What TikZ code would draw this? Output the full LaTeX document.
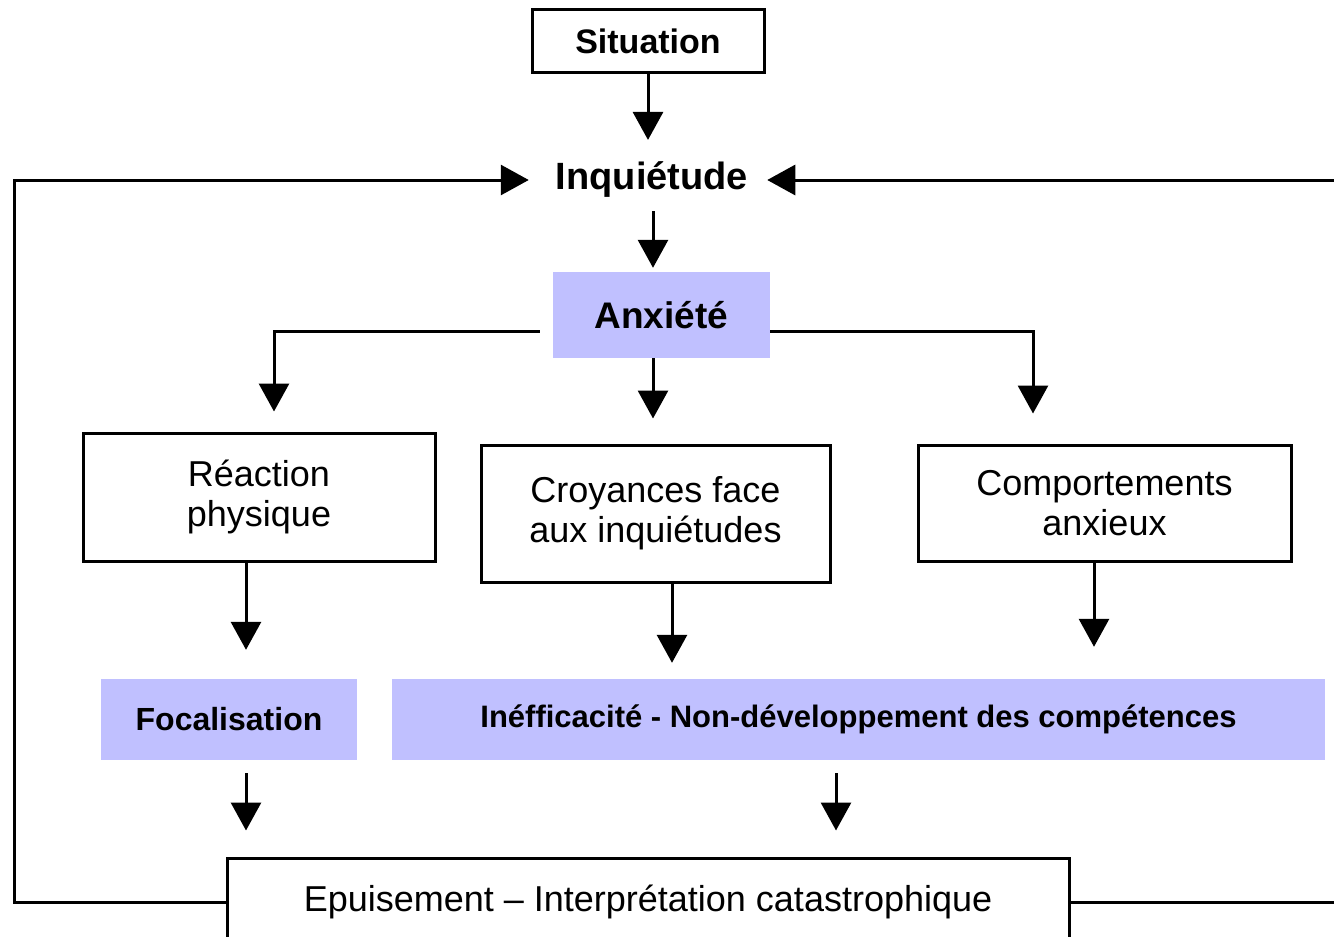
\documentclass[tikz,border=0pt]{standalone}
\usepackage{fontspec}
\setmainfont{Liberation Sans}
\usetikzlibrary{arrows.meta,positioning}
\definecolor{lavande}{HTML}{C0C0FF}

\tikzset{
  boite/.style={draw, line width=3pt, inner sep=0pt, align=center, font=\fontsize{36}{40}\selectfont},
  pave/.style={fill=lavande, inner sep=0pt, align=center, font=\fontsize{31}{36}\selectfont\bfseries},
  fleche/.style={line width=3pt, -{Triangle[width=30pt,length=28pt]}},
}

\begin{document}
\begin{tikzpicture}[x=1pt,y=-1pt]
            \clip (0,0) rectangle (1334,937);
            \fill[white] (0,0) rectangle (1334,937);
            \node[boite, minimum width=232pt, minimum height=63pt, font=\fontsize{34}{38}\selectfont\bfseries] (situation) at (648,41) {Situation};
            \node[inner sep=0pt, font=\fontsize{38}{40}\selectfont\bfseries] (inquietude) at (652,180) {Inquiétude};
            \node[pave, minimum width=217pt, minimum height=86pt, font=\fontsize{37}{40}\selectfont\bfseries] (anxiete) at (661.5,315) {Anxiété};
            \node[boite, minimum width=352pt, minimum height=128pt] (reaction) at (259,497) {Réaction\\physique};
            \node[boite, minimum width=349pt, minimum height=137pt] (croyances) at (655.5,513.5) {Croyances face\\aux inquiétudes};
            \node[boite, minimum width=373pt, minimum height=116pt] (comportements) at (1104.5,503) {Comportements\\anxieux};
            \node[pave, minimum width=256pt, minimum height=81pt, font=\fontsize{32}{36}\selectfont\bfseries] (focalisation) at (229,719.5) {Focalisation};
            \node[pave, minimum width=933pt, minimum height=81pt] (inefficacite) at (858.5,719.5) {Inéfficacité - Non-développement des compétences};
            \node[boite, minimum width=842pt, minimum height=88pt] (epuisement) at (648,902) {Epuisement -- Interprétation catastrophique};
            \coordinate (coinG) at (14,180);
            \coordinate (coinD) at (1350,180);
            \draw[fleche, shorten >=22pt] (situation.south) -- (situation.south |- inquietude.north);
            \draw[fleche, shorten <=13pt, shorten >=4pt] ([xshift=1pt]inquietude.south) -- ([xshift=1pt]inquietude.south |- anxiete.north);
            \draw[fleche, shorten <=13pt, shorten >=20pt] ([yshift=-16pt]anxiete.west) -| ([xshift=15pt]reaction.north);
            \draw[fleche, shorten >=25pt] ([xshift=-8.5pt]anxiete.south) -- ([xshift=-8.5pt]anxiete.south |- croyances.north);
            \draw[fleche, shorten >=30pt] ([yshift=-16pt]anxiete.east) -| ([xshift=-71.5pt]comportements.north);
            \draw[fleche, shorten >=29pt] ([xshift=-13pt]reaction.south) -- ([xshift=-13pt]reaction.south |- focalisation.north);
            \draw[fleche, shorten >=16pt] ([xshift=16.5pt]croyances.south) -- ([xshift=16.5pt]croyances.south |- inefficacite.north);
            \draw[fleche, shorten >=32pt] ([xshift=-10.5pt]comportements.south) -- ([xshift=-10.5pt]comportements.south |- inefficacite.north);
            \draw[fleche, shorten <=13pt, shorten >=26pt] ([xshift=17pt]focalisation.south) -- ([xshift=17pt]focalisation.south |- epuisement.north);
            \draw[fleche, shorten <=13pt, shorten >=26pt] ([xshift=-22.5pt]inefficacite.south) -- ([xshift=-22.5pt]inefficacite.south |- epuisement.north);
            \draw[fleche, shorten >=27pt] (epuisement.west) -| (coinG) -- (inquietude.west);
            \draw[fleche, shorten >=19pt] (epuisement.east) -| (coinD) -- (inquietude.east);
        \end{tikzpicture}
\end{document}
